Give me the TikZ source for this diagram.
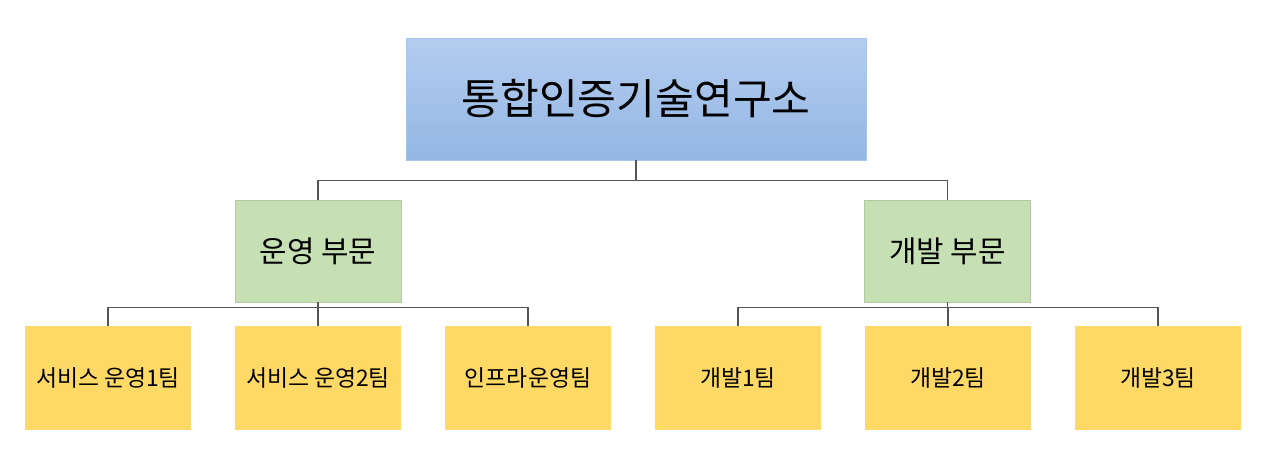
\documentclass[tikz,border=0pt]{standalone}
\usepackage{fontspec}
\setmainfont{Noto Sans CJK KR}
\usetikzlibrary{positioning}
\definecolor{topA}{HTML}{B4CDEF}
\definecolor{topB}{HTML}{93B6E4}
\definecolor{midfill}{HTML}{C6E0B4}
\definecolor{teamfill}{HTML}{FFD966}
\definecolor{linegray}{HTML}{555555}
\tikzset{
  headbox/.style={draw=topB!80!white, top color=topA, bottom color=topB, minimum width=9.2cm, minimum height=2.44cm, font=\fontsize{24}{28}\selectfont},
  partbox/.style={fill=midfill, draw=midfill!90!black, minimum width=3.32cm, minimum height=2.04cm, font=\fontsize{17}{20}\selectfont},
  teambox/.style={fill=teamfill, minimum width=3.32cm, minimum height=2.08cm, font=\fontsize{13}{16}\selectfont},
  link/.style={draw=linegray, line width=0.9pt}
}
\begin{document}
\begin{tikzpicture}
  \useasboundingbox (0,0) rectangle (25.52,-9.18);
  % Define nodes
  \node[headbox] (lab) at (12.72,-1.98) {통합인증기술연구소};
  \node[partbox] (ops) at (6.36,-5.02) {운영 부문};
  \node[partbox] (dev) at (18.95,-5.02) {개발 부문};
  \node[teambox] (svc1) at (2.16,-7.56) {서비스 운영1팀};
  \node[teambox] (svc2) at (6.36,-7.56) {서비스 운영2팀};
  \node[teambox] (infra) at (10.56,-7.56) {인프라운영팀};
  \node[teambox] (dev1) at (14.76,-7.56) {개발1팀};
  \node[teambox] (dev2) at (18.96,-7.56) {개발2팀};
  \node[teambox] (dev3) at (23.16,-7.56) {개발3팀};

  % Connect nodes
  \draw[link] (lab.south) -- ++(0,-0.4) -| (ops.north);
  \draw[link] (lab.south) -- ++(0,-0.4) -| (dev.north);
  \foreach \t in {svc1,svc2,infra}
    \draw[link] (ops.south) -- ++(0,-0.1) -| (\t.north);
  \foreach \t in {dev1,dev2,dev3}
    \draw[link] (dev.south) -- ++(0,-0.1) -| (\t.north);
\end{tikzpicture}
\end{document}
